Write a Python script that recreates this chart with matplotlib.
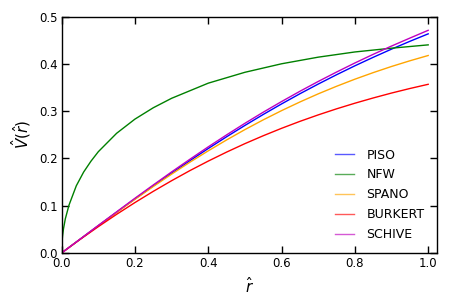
import matplotlib
matplotlib.use("Agg")
import matplotlib.pyplot as plt

# radius grid (0.05 steps) shared by the cored profiles
r = [0.00, 0.05, 0.10, 0.15, 0.20, 0.25, 0.30, 0.35, 0.40, 0.45, 0.50,
     0.55, 0.60, 0.65, 0.70, 0.75, 0.80, 0.85, 0.90, 0.95, 1.00]

piso = [0.000, 0.0289, 0.0576, 0.0860, 0.1141, 0.1417, 0.1688, 0.1951, 0.2208, 0.2456, 0.2696,
        0.2928, 0.3151, 0.3366, 0.3571, 0.3768, 0.3957, 0.4137, 0.4310, 0.4475, 0.4633]
spano = [0.000, 0.0288, 0.0575, 0.0857, 0.1134, 0.1404, 0.1666, 0.1919, 0.2159, 0.2389, 0.2608,
         0.2814, 0.3009, 0.3192, 0.3364, 0.3524, 0.3674, 0.3813, 0.3943, 0.4063, 0.4175]
burkert = [0.000, 0.0283, 0.0555, 0.0816, 0.1065, 0.1302, 0.1527, 0.1741, 0.1942, 0.2132, 0.2311,
           0.2478, 0.2635, 0.2782, 0.2919, 0.3047, 0.3166, 0.3277, 0.3381, 0.3477, 0.3566]
schive = [0.000, 0.0289, 0.0581, 0.0869, 0.1156, 0.1437, 0.1713, 0.1981, 0.2243, 0.2496, 0.2741,
          0.2976, 0.3201, 0.3418, 0.3626, 0.3825, 0.4017, 0.4200, 0.4375, 0.4543, 0.4708]

# NFW rises steeply near the centre, so it gets its own finer grid there
r_nfw = [0.0, 0.001, 0.0025, 0.005, 0.01, 0.02, 0.04, 0.06, 0.08, 0.10, 0.15, 0.20,
         0.25, 0.30, 0.40, 0.50, 0.60, 0.70, 0.80, 0.90, 1.00]
nfw = [0.000, 0.023, 0.036, 0.051, 0.072, 0.101, 0.142, 0.171, 0.194, 0.214, 0.253, 0.283,
       0.307, 0.327, 0.359, 0.382, 0.400, 0.414, 0.425, 0.433, 0.440]

plt.rcParams['font.family'] = 'DejaVu Sans'
plt.rcParams['mathtext.fontset'] = 'dejavusans'

fig = plt.figure(figsize=(4.5, 3), dpi=100)
ax = fig.add_axes([0.137, 0.157, 0.833, 0.788])

ax.plot(r, piso, color='b', lw=1.0, label='PISO')
ax.plot(r_nfw, nfw, color='g', lw=1.0, label='NFW')
ax.plot(r, spano, color='orange', lw=1.0, label='SPANO')
ax.plot(r, burkert, color='r', lw=1.0, label='BURKERT')
ax.plot(r, schive, color='m', lw=1.0, label='SCHIVE')

ax.set_xlim(0, 1.0227)
ax.set_ylim(0, 0.5)
ax.set_xticks([0.0, 0.2, 0.4, 0.6, 0.8, 1.0])
ax.set_yticks([0.0, 0.1, 0.2, 0.3, 0.4, 0.5])
ax.tick_params(direction='in', top=True, right=True, length=5, width=1,
               labelsize=8.5, pad=3)
for s in ax.spines.values():
    s.set_linewidth(1.0)

ax.set_xlabel(r'$\hat{r}$', fontsize=11)
ax.set_ylabel(r'$\hat{V}(\hat{r})$', fontsize=11)

leg = ax.legend(loc='lower right', frameon=False, fontsize=9,
                handlelength=1.5, handletextpad=1.0, labelspacing=0.55,
                borderaxespad=0.55)
for h in leg.legend_handles:
    h.set_alpha(0.65)

fig.savefig('out.png', dpi=100)
